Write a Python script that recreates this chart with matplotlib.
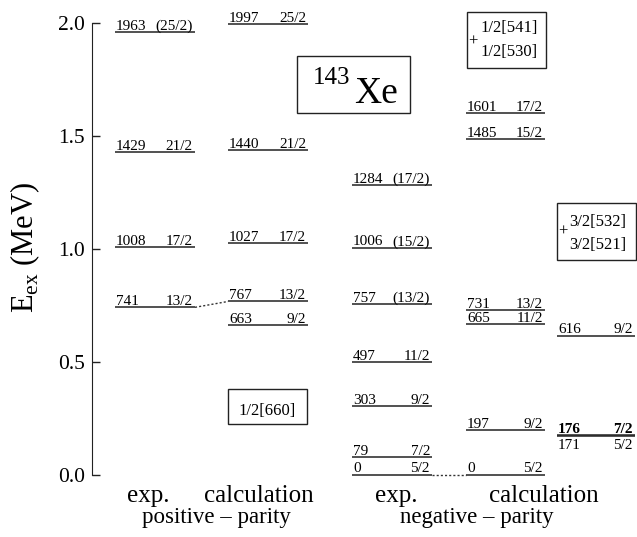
import matplotlib.pyplot as plt
from matplotlib.patches import Rectangle

plt.rcParams['font.family'] = ['Liberation Serif', 'DejaVu Serif']
plt.rcParams['mathtext.fontset'] = 'custom'
plt.rcParams['mathtext.rm'] = 'Liberation Serif'

# level energies (keV) and spins, 143Xe
pos_exp_e = [1963, 1429, 1008, 741]
pos_exp_j = ['(25/2)', '21/2', '17/2', '13/2']
pos_calc_e = [1997, 1440, 1027, 767, 663]
pos_calc_j = ['25/2', '21/2', '17/2', '13/2', '9/2']
neg_exp_e = [1284, 1006, 757, 497, 303, 79, 0]
neg_exp_j = ['(17/2)', '(15/2)', '(13/2)', '11/2', '9/2', '7/2', '5/2']
neg_calc1_e = [1601, 1485, 731, 665, 197, 0]
neg_calc1_j = ['17/2', '15/2', '13/2', '11/2', '9/2', '5/2']
neg_calc2_e = [616, 176, 171]
neg_calc2_j = ['9/2', '7/2', '5/2']

yticks = [0.0, 0.5, 1.0, 1.5, 2.0]

W, H = 637, 537
fig = plt.figure(figsize=(W / 100, H / 100), dpi=100)
ax = fig.add_axes([92 / W, 62.5 / H, (W - 92) / W, 451.2 / H])
ax.set_xlim(92, W)
ax.set_ylim(0, 2)
for s in ['top', 'right', 'bottom']:
    ax.spines[s].set_visible(False)
ax.spines['left'].set_color('#222222')
ax.set_xticks([])
ax.set_yticks(yticks)
ax.set_yticklabels(['%.1f' % t for t in yticks])
ax.tick_params(axis='y', direction='in', length=6, width=1, labelsize=15.5, pad=5, color='#222222')
ax.patch.set_visible(False)

# columns: x range in pixels
cols = [(115, 195, pos_exp_e, pos_exp_j),
        (228, 308, pos_calc_e, pos_calc_j),
        (352, 432, neg_exp_e, neg_exp_j),
        (466, 545, neg_calc1_e, neg_calc1_j),
        (557, 635, neg_calc2_e, neg_calc2_j)]
label_below = {171}
bold_labels = {176}

for x0, x1, E, J in cols:
    ax.hlines([e / 1000 for e in E], x0, x1, color='#222222', lw=1.1, clip_on=False)
    for e, j in zip(E, J):
        if e in label_below and x0 == 557:
            dy, va = -2.5, 'top'
        else:
            dy, va = 1.5, 'baseline'
        fw = 'bold' if (e in bold_labels and x0 == 557) else 'normal'
        ax.annotate(str(e), (x0 + 1, e / 1000), xytext=(0, dy), textcoords='offset points',
                    ha='left', va=va, fontsize=11, fontweight=fw, annotation_clip=False)
        ax.annotate(j, (x1 - 2, e / 1000), xytext=(0, dy), textcoords='offset points',
                    ha='right', va=va, fontsize=11, fontweight=fw, annotation_clip=False)

# dotted links exp <-> calc
ax.plot([195, 228], [pos_exp_e[3] / 1000, pos_calc_e[3] / 1000], ls=(0, (1.5, 1.5)),
        lw=1, color='#333333', clip_on=False)
ax.plot([432, 466], [neg_exp_e[-1] / 1000, neg_calc1_e[-1] / 1000], ls=(0, (1.5, 1.5)),
        lw=1, color='#333333', clip_on=False)


def fbox(x0, y0, x1, y1):
    fig.add_artist(Rectangle((x0 / W, 1 - y1 / H), (x1 - x0) / W, (y1 - y0) / H,
                             transform=fig.transFigure, fill=False, lw=1, ec='#222222'))


def ftext(x, y, s, **kw):
    fig.text(x / W, 1 - y / H, s, **kw)


fbox(297, 56, 410, 113)
ftext(350, 78, '143', ha='right', va='center', fontsize=18)
ftext(354, 103, 'Xe', ha='left', va='baseline', fontsize=27)

fbox(228, 389, 307, 424)
ftext(267, 411, '1/2[660]', ha='center', va='center', fontsize=12)

fbox(467, 12, 546, 68)
ftext(480, 28, '1/2[541]', ha='left', va='center', fontsize=12)
ftext(480, 52, '1/2[530]', ha='left', va='center', fontsize=12)
ftext(473, 42, '+', ha='center', va='center', fontsize=12)

fbox(557, 203, 636, 260)
ftext(569, 222, '3/2[532]', ha='left', va='center', fontsize=12)
ftext(569, 245, '3/2[521]', ha='left', va='center', fontsize=12)
ftext(563, 232, '+', ha='center', va='center', fontsize=12)

# bottom labels
ftext(148, 502, 'exp.', ha='center', va='baseline', fontsize=18)
ftext(259, 502, 'calculation', ha='center', va='baseline', fontsize=18)
ftext(216, 523, 'positive – parity', ha='center', va='baseline', fontsize=16.5)
ftext(396, 502, 'exp.', ha='center', va='baseline', fontsize=18)
ftext(544, 502, 'calculation', ha='center', va='baseline', fontsize=18)
ftext(477, 523, 'negative – parity', ha='center', va='baseline', fontsize=16.5)

ftext(25, 247, r'E$_{\mathrm{ex}}$ (MeV)', rotation=90, ha='center', va='center', fontsize=22)

fig.savefig('out.png', dpi=100)
